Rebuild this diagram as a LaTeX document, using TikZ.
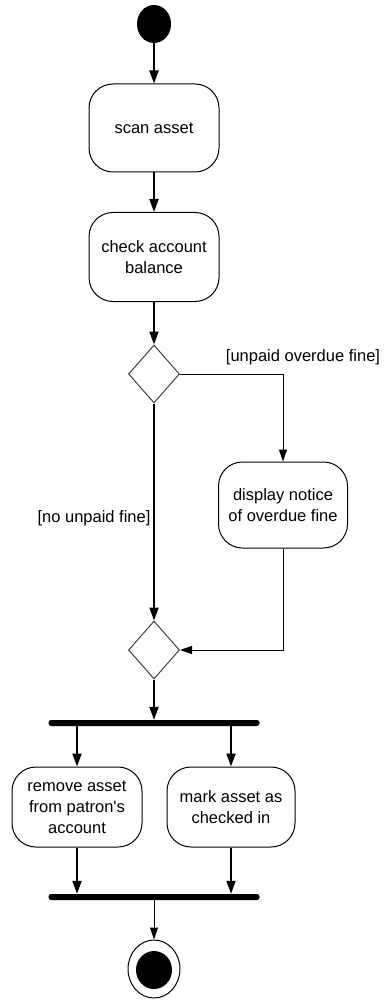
\documentclass[tikz,border=0pt]{standalone}
\usepackage{fontspec}
\setmainfont{Liberation Sans}
\usetikzlibrary{shapes.geometric,arrows.meta}

\tikzset{
    act/.style={draw=black, line width=1pt, rounded corners=24pt, align=center,
        inner sep=0pt, minimum width=130pt},
    choice/.style={diamond, draw=black!75, line width=1pt, inner sep=0pt,
        minimum width=51pt, minimum height=58pt},
    syncbar/.style={fill=black, inner sep=0pt, rounded corners=2.5pt,
        minimum width=211pt, minimum height=6pt},
    flow/.style={line width=2pt, -{Triangle[length=13pt,width=9pt]}},
    thinflow/.style={line width=1pt, -{Triangle[length=12pt,width=8pt]}},
    guard/.style={inner sep=0pt}
}

\begin{document}
\begin{tikzpicture}[x=1pt,y=-1pt]
    \useasboundingbox (0,0) rectangle (383,1000);
    \fontsize{16.5}{21}\selectfont
    % start and actions
    \node[ellipse, fill=black, minimum width=34pt, minimum height=38pt, inner sep=0pt] (start) at (154,24) {};
    \node[act, minimum height=88pt] (scan) at (154,128) {scan asset};
    \node[act, minimum height=89pt] (check) at (154,257) {check account\\balance};
    \node[choice] (d1) at (154,374) {};
    \node[act, minimum width=129pt, minimum height=86pt] (disp) at (283,505) {display notice\\of overdue fine};
    \node[choice] (d2) at (154,650) {};
    % fork / join
    \node[syncbar] (fork) at (154,723) {};
    \node[act, minimum height=80pt] (remove) at (77,807) {remove asset\\from patron\textquotesingle s\\account};
    \node[act, minimum width=128pt, minimum height=80pt] (mark) at (231,807) {mark asset as\\checked in};
    \node[syncbar] (join) at (154,897) {};
    % final state
    \node[ellipse, draw=black, line width=1pt, minimum width=52pt, minimum height=58pt, inner sep=0pt] (final) at (154,969) {};
    \node[ellipse, fill=black, minimum width=36pt, minimum height=38pt, inner sep=0pt] (finaldot) at (154,970) {};
    % guards
    \node[guard] (lblfine) at (303,357) {[unpaid overdue fine]};
    \node[guard] (lblnofine) at (94,518) {[no unpaid fine]};

    \draw[flow] (start) -- (scan);
    \draw[flow] (scan) -- (check);
    \draw[flow] (check) -- (d1);
    \draw[thinflow] (d1.east) -| (disp.north);
    \draw[flow] (d1) -- (d2);
    \draw[thinflow] (disp.south) |- (d2.east);
    \draw[flow] (d2) -- (fork);
    \draw[flow] (fork.south -| remove.north) -- (remove);
    \draw[flow] (fork.south -| mark.north) -- (mark);
    \draw[flow] (remove) -- (remove |- join.north);
    \draw[flow] (mark) -- (mark |- join.north);
    \draw[thinflow] (join.south -| final.north) -- (final);
\end{tikzpicture}
\end{document}
